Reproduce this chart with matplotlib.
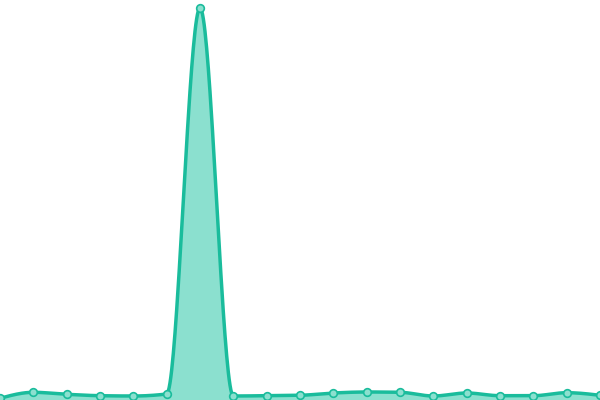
import numpy as np
import matplotlib
matplotlib.use("Agg")
import matplotlib.pyplot as plt

# values (baseline = 0)
xs = list(range(19))
vals = [1.7, 7.7, 5.7, 4.3, 4.0, 6.0, 392.0, 4.0, 4.3, 4.7,
        7.0, 8.0, 7.7, 4.0, 7.0, 4.3, 4.3, 7.3, 4.7]

line_col = "#1abc9c"
fill_col = "#8be0cf"


def monotone(x, y, n=40):
    # monotone cubic (like d3 curveMonotoneX)
    x = np.asarray(x, float)
    y = np.asarray(y, float)
    h = np.diff(x)
    s = np.diff(y) / h
    m = np.zeros_like(y)
    for i in range(1, len(y) - 1):
        if s[i - 1] * s[i] <= 0:
            m[i] = 0
        else:
            p = (s[i - 1] * h[i] + s[i] * h[i - 1]) / (h[i - 1] + h[i])
            m[i] = (np.sign(s[i - 1]) + np.sign(s[i])) * min(abs(s[i - 1]), abs(s[i]), 0.5 * abs(p))
    m[0] = (3 * s[0] - m[1]) / 2 if len(y) > 2 else s[0]
    m[-1] = (3 * s[-1] - m[-2]) / 2 if len(y) > 2 else s[-1]
    px, py = [], []
    for i in range(len(y) - 1):
        t = np.linspace(0, 1, n, endpoint=(i == len(y) - 2))
        h00 = 2 * t**3 - 3 * t**2 + 1
        h10 = t**3 - 2 * t**2 + t
        h01 = -2 * t**3 + 3 * t**2
        h11 = t**3 - t**2
        px.extend(x[i] + t * h[i])
        py.extend(h00 * y[i] + h10 * h[i] * m[i] + h01 * y[i + 1] + h11 * h[i] * m[i + 1])
    return np.array(px), np.array(py)


cx, cy = monotone(xs, vals)

fig = plt.figure(figsize=(6, 4), dpi=100)
ax = fig.add_axes([0, 0, 1, 1])
ax.fill_between(cx, cy, 0, color=fill_col, linewidth=0)
ax.plot(cx, cy, color=line_col, linewidth=2.5, solid_capstyle="round")
ax.plot(xs, vals, "o", markersize=5.5, markerfacecolor=fill_col,
        markeredgecolor=line_col, markeredgewidth=1.2)
ax.set_xlim(0, 18)
ax.set_ylim(0, 400)
ax.axis("off")

fig.savefig("out.png", dpi=100)
